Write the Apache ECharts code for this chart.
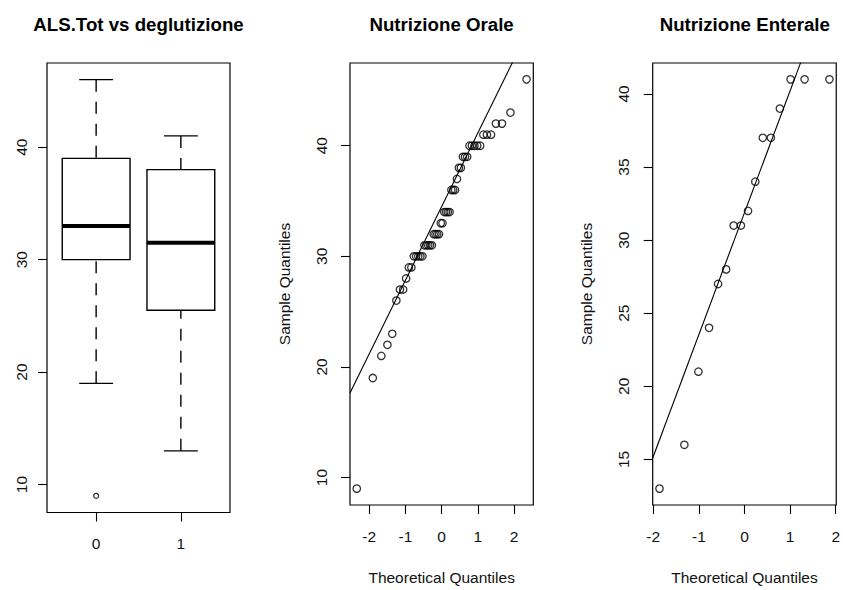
<!DOCTYPE html>
<html>
<head>
<meta charset="utf-8">
<title>ALS.Tot vs deglutizione</title>
<script src="https://cdn.jsdelivr.net/npm/echarts@6/dist/echarts.min.js"></script>
<style>
  html, body { margin: 0; padding: 0; background: #fff; overflow: hidden; }
  #chart { width: 843px; height: 590px; }
</style>
</head>
<body>
<div id="chart"></div>
<script>
// ---- data -----------------------------------------------------------------
// swallowing groups on the boxplot axis
const groupLabels = ['0', '1'];
const groupTicks = [0, 1];
// [lower whisker, lower hinge, median, upper hinge, upper whisker]
const boxStats = [
  [19, 30, 33, 39, 46],
  [13, 25.5, 31.5, 38, 41]
];
// [group index, value]
const boxOutliers = [[0, 9]];

// ALS.Tot, oral feeding (sorted) and matching normal quantiles
const oraleValues = [
  9, 19, 21, 22, 23, 26, 27, 27, 28, 29, 29,
  30, 30, 30, 30, 30,
  31, 31, 31, 31, 31,
  32, 32, 32, 32,
  33, 33,
  34, 34, 34, 34,
  36, 36, 36,
  37,
  38, 38,
  39, 39, 39,
  40, 40, 40, 40, 40,
  41, 41, 41,
  42, 42,
  43,
  46
];
const oraleTheoretical = [
  -2.341, -1.898, -1.664, -1.496, -1.362, -1.249, -1.150, -1.062, -0.980, -0.905, -0.835,
  -0.768, -0.705, -0.645, -0.586, -0.530,
  -0.475, -0.422, -0.370, -0.319, -0.268,
  -0.219, -0.170, -0.121, -0.072,
  -0.024, 0.024,
  0.072, 0.121, 0.170, 0.219,
  0.268, 0.319, 0.370,
  0.422,
  0.475, 0.530,
  0.586, 0.645, 0.705,
  0.768, 0.835, 0.905, 0.980, 1.062,
  1.150, 1.249, 1.362,
  1.496, 1.664,
  1.898,
  2.341
];
// reference line through the quartiles
const oraleLineX = [-2.5274, 2.5274];
const oraleLineY = [17.638, 51.362];

// ALS.Tot, enteral feeding (sorted) and matching normal quantiles
const enteraleValues = [13, 16, 21, 24, 27, 28, 31, 31, 32, 34, 37, 37, 39, 41, 41, 41];
const enteraleTheoretical = [
  -1.863, -1.318, -1.010, -0.776, -0.579, -0.402, -0.237, -0.078,
  0.078, 0.237, 0.402, 0.579, 0.776, 1.010, 1.318, 1.863
];
const enteraleLineX = [-2.012, 2.012];
const enteraleLineY = [15.095, 48.655];

// tick values
const alsTicks = [10, 20, 30, 40];
const enteraleTicks = [15, 20, 25, 30, 35, 40];
const normTicks = [-2, -1, 0, 1, 2];

// ---- styling --------------------------------------------------------------
const FONT = "'Liberation Sans', Arial, Helvetica, sans-serif";
const INK = '#000';
const AXIS_FONT = 15.5;
const TITLE_FONT = 18.7;

const chart = echarts.init(document.getElementById('chart'), null, { renderer: 'svg' });

const gridBase = { top: 63, height: 449.5, show: true, borderColor: INK, borderWidth: 1.2, backgroundColor: 'transparent', containLabel: false };
const grids = [
  Object.assign({ left: 47, width: 183 }, gridBase),
  Object.assign({ left: 350, width: 183.3 }, gridBase),
  Object.assign({ left: 652.7, width: 184.3 }, gridBase)
];

function axis(gridIndex, min, max, ticks, opts) {
  opts = opts || {};
  return {
    type: 'value',
    gridIndex: gridIndex,
    min: min,
    max: max,
    axisLine: { show: false, onZero: false },
    splitLine: { show: false },
    axisTick: { show: true, customValues: ticks, length: 9, lineStyle: { color: INK, width: 1.1 } },
    axisLabel: {
      show: true,
      customValues: ticks,
      margin: opts.margin,
      rotate: opts.rotate || 0,
      fontSize: AXIS_FONT,
      fontFamily: FONT,
      color: '#111',
      formatter: opts.formatter
    },
    name: opts.name || '',
    nameLocation: 'middle',
    nameGap: opts.nameGap || 0,
    nameTextStyle: { fontSize: AXIS_FONT, fontFamily: FONT, color: '#111' },
    silent: true
  };
}

const xAxes = [
  axis(0, -0.58, 1.58, groupTicks, { margin: 23, formatter: v => groupLabels[Math.round(v)] }),
  axis(1, -2.5274, 2.5274, normTicks, { margin: 23, name: 'Theoretical Quantiles', nameGap: 64 }),
  axis(2, -2.012, 2.012, normTicks, { margin: 23, name: 'Theoretical Quantiles', nameGap: 64 })
];
const yAxes = [
  axis(0, 7.52, 47.48, alsTicks, { margin: 18, rotate: 90 }),
  axis(1, 7.52, 47.48, alsTicks, { margin: 21, rotate: 90, name: 'Sample Quantiles', nameGap: 58 }),
  axis(2, 11.88, 42.12, enteraleTicks, { margin: 21, rotate: 90, name: 'Sample Quantiles', nameGap: 58 })
];

function panelTitle(text, centerX) {
  return {
    text: text,
    left: centerX,
    top: 15,
    padding: 0,
    textAlign: 'center',
    textStyle: { fontSize: TITLE_FONT, fontWeight: 'bold', fontFamily: FONT, color: INK }
  };
}

// box, median bar, dashed whiskers and staples for one group
function renderBox(params, api) {
  const x = api.value(0);
  const lo = api.value(1), q1 = api.value(2), med = api.value(3), q3 = api.value(4), hi = api.value(5);
  const half = 0.4, staple = 0.2;
  const c = (a, b) => api.coord([a, b]);
  const tl = c(x - half, q3), br = c(x + half, q1);
  const m0 = c(x - half, med), m1 = c(x + half, med);
  const wHi = c(x, hi), wQ3 = c(x, q3), wLo = c(x, lo), wQ1 = c(x, q1);
  const sHi0 = c(x - staple, hi), sHi1 = c(x + staple, hi);
  const sLo0 = c(x - staple, lo), sLo1 = c(x + staple, lo);
  const thin = { stroke: INK, lineWidth: 1.4, fill: null };
  const dashed = { stroke: INK, lineWidth: 1.4, lineDash: [12, 10] };
  return {
    type: 'group',
    children: [
      { type: 'line', shape: { x1: wHi[0], y1: wHi[1], x2: wQ3[0], y2: wQ3[1] }, style: dashed },
      { type: 'line', shape: { x1: wLo[0], y1: wLo[1], x2: wQ1[0], y2: wQ1[1] }, style: dashed },
      { type: 'line', shape: { x1: sHi0[0], y1: sHi0[1], x2: sHi1[0], y2: sHi1[1] }, style: thin },
      { type: 'line', shape: { x1: sLo0[0], y1: sLo0[1], x2: sLo1[0], y2: sLo1[1] }, style: thin },
      { type: 'rect', shape: { x: tl[0], y: tl[1], width: br[0] - tl[0], height: br[1] - tl[1] },
        style: { fill: '#fff', stroke: INK, lineWidth: 1.4 } },
      { type: 'line', shape: { x1: m0[0], y1: m0[1], x2: m1[0], y2: m1[1] }, style: { stroke: INK, lineWidth: 4 } }
    ]
  };
}

const hollow = { color: 'rgba(0,0,0,0)', borderColor: INK, borderWidth: 1.3 };

function pairs(xs, ys) { return xs.map((x, i) => [x, ys[i]]); }

chart.setOption({
  backgroundColor: '#fff',
  animation: false,
  title: [
    panelTitle('ALS.Tot vs deglutizione', 138.5),
    panelTitle('Nutrizione Orale', 441.6),
    panelTitle('Nutrizione Enterale', 744.8)
  ],
  grid: grids,
  xAxis: xAxes,
  yAxis: yAxes,
  series: [
    {
      type: 'custom',
      xAxisIndex: 0, yAxisIndex: 0,
      renderItem: renderBox,
      encode: { x: 0, y: [1, 2, 3, 4, 5] },
      data: boxStats.map((s, i) => [groupTicks[i]].concat(s)),
      silent: true
    },
    {
      type: 'scatter',
      xAxisIndex: 0, yAxisIndex: 0,
      symbol: 'circle', symbolSize: 5,
      itemStyle: hollow,
      data: boxOutliers,
      silent: true
    },
    {
      type: 'scatter',
      xAxisIndex: 1, yAxisIndex: 1,
      symbol: 'circle', symbolSize: 7.4,
      itemStyle: hollow,
      data: pairs(oraleTheoretical, oraleValues),
      silent: true
    },
    {
      type: 'line',
      xAxisIndex: 1, yAxisIndex: 1,
      showSymbol: false, clip: true,
      lineStyle: { color: INK, width: 1.1 },
      data: pairs(oraleLineX, oraleLineY),
      silent: true
    },
    {
      type: 'scatter',
      xAxisIndex: 2, yAxisIndex: 2,
      symbol: 'circle', symbolSize: 7.4,
      itemStyle: hollow,
      data: pairs(enteraleTheoretical, enteraleValues),
      silent: true
    },
    {
      type: 'line',
      xAxisIndex: 2, yAxisIndex: 2,
      showSymbol: false, clip: true,
      lineStyle: { color: INK, width: 1.1 },
      data: pairs(enteraleLineX, enteraleLineY),
      silent: true
    }
  ]
});
</script>
</body>
</html>
